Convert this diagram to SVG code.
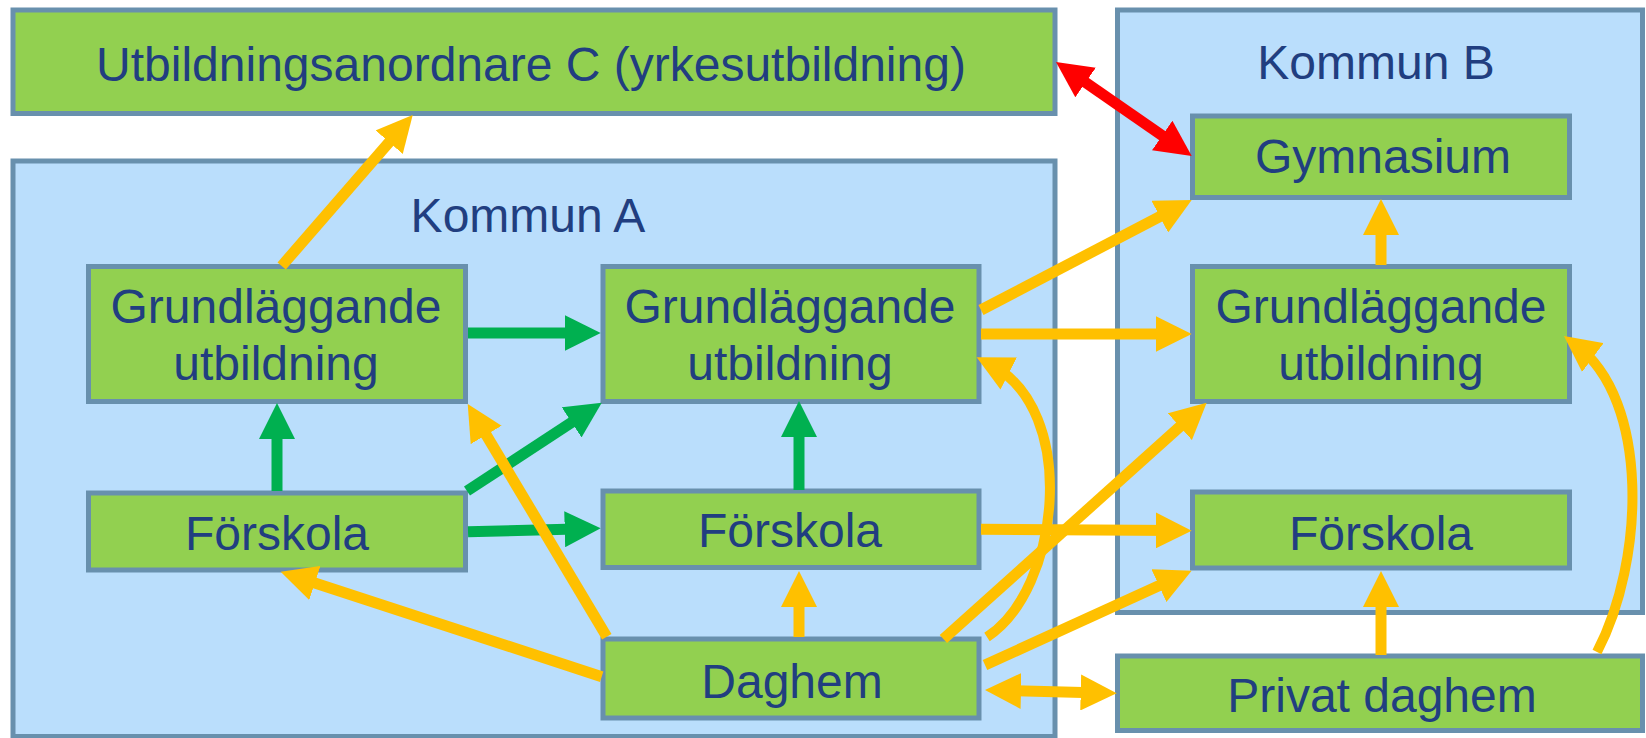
<svg xmlns="http://www.w3.org/2000/svg" width="1646" height="738" viewBox="0 0 1646 738">
<style>
.area{fill:#BADEFC;stroke:#6890AD;stroke-width:5}
.node{fill:#92D050;stroke:#6890AD;stroke-width:5}
.t{font-family:"Liberation Sans",Arial,sans-serif;font-size:48px;fill:#213E80;text-anchor:middle}
.g{stroke:#00B050;stroke-width:11;fill:none}
.y{stroke:#FFC000;stroke-width:11;fill:none}
.yc{stroke:#FFC000;stroke-width:10;fill:none}
.r{stroke:#FF0000;stroke-width:11;fill:none}
</style>
<defs>
<marker id="hg" viewBox="0 0 36 36" refX="21" refY="18" markerWidth="36" markerHeight="36" markerUnits="userSpaceOnUse" orient="auto-start-reverse"><path d="M0,0 L36,18 L0,36 z" fill="#00B050"/></marker>
<marker id="hy" viewBox="0 0 36 36" refX="21" refY="18" markerWidth="36" markerHeight="36" markerUnits="userSpaceOnUse" orient="auto-start-reverse"><path d="M0,0 L36,18 L0,36 z" fill="#FFC000"/></marker>
<marker id="hr" viewBox="0 0 36 36" refX="21" refY="18" markerWidth="36" markerHeight="36" markerUnits="userSpaceOnUse" orient="auto-start-reverse"><path d="M0,0 L36,18 L0,36 z" fill="#FF0000"/></marker>
</defs>
<rect width="1646" height="738" fill="#FFFFFF"/>
<g id="kommun-a"><rect class="area" x="13" y="161" width="1042" height="575.5"/><text class="t" x="528" y="232">Kommun A</text></g>
<g id="kommun-b"><rect class="area" x="1117.5" y="10" width="525" height="602.5"/><text class="t" x="1376" y="79">Kommun B</text></g>
<g id="utbildningsanordnare-c"><rect class="node" x="13" y="10" width="1042" height="103.5"/><text class="t" x="531" y="81">Utbildningsanordnare C (yrkesutbildning)</text></g>
<g id="gymnasium"><rect class="node" x="1192.5" y="116" width="377" height="81.5"/><text class="t" x="1383" y="172.7">Gymnasium</text></g>
<g id="grund-a1"><rect class="node" x="88.5" y="266.5" width="377" height="135"/><text class="t" x="276" y="322.7">Grundläggande</text><text class="t" x="276" y="380">utbildning</text></g>
<g id="grund-a2"><rect class="node" x="603" y="266.5" width="376" height="135"/><text class="t" x="790" y="322.7">Grundläggande</text><text class="t" x="790" y="380">utbildning</text></g>
<g id="grund-b"><rect class="node" x="1192.5" y="266.5" width="377" height="135"/><text class="t" x="1381" y="322.7">Grundläggande</text><text class="t" x="1381" y="380">utbildning</text></g>
<g id="forskola-a1"><rect class="node" x="88.5" y="493" width="377" height="77"/><text class="t" x="277" y="550">Förskola</text></g>
<g id="forskola-a2"><rect class="node" x="603" y="491" width="376" height="76.5"/><text class="t" x="790" y="547.3">Förskola</text></g>
<g id="forskola-b"><rect class="node" x="1192.5" y="492" width="377" height="76"/><text class="t" x="1381" y="550">Förskola</text></g>
<g id="daghem"><rect class="node" x="603" y="639" width="376" height="79"/><text class="t" x="792" y="698.3">Daghem</text></g>
<g id="privat-daghem"><rect class="node" x="1117.5" y="656" width="525" height="74.5"/><text class="t" x="1382" y="711.7">Privat daghem</text></g>
<g id="connectors">
<path class="y" d="M281.7,266 L402.9,126.3" marker-end="url(#hy)"/>
<path class="r" d="M1068.3,70.5 L1179.4,147.5" marker-start="url(#hr)" marker-end="url(#hr)"/>
<path class="y" d="M981,310 L1178.4,206.9" marker-end="url(#hy)"/>
<path class="y" d="M1381,265 L1381,214" marker-end="url(#hy)"/>
<path class="y" d="M981,334 L1176.7,334" marker-end="url(#hy)"/>
<path class="g" d="M468,333 L585.7,333" marker-end="url(#hg)"/>
<path class="g" d="M277,491 L277,418" marker-end="url(#hg)"/>
<path class="g" d="M467,491 L589.2,410.9" marker-end="url(#hg)"/>
<path class="g" d="M468,531.7 L585.7,528.7" marker-end="url(#hg)"/>
<path class="g" d="M799,490 L799,416" marker-end="url(#hg)"/>
<path class="y" d="M799,637 L799,586" marker-end="url(#hy)"/>
<path class="y" d="M601.7,676.7 L294.9,576.4" marker-end="url(#hy)"/>
<path class="y" d="M606.8,636.7 L475.4,416.9" marker-end="url(#hy)"/>
<path class="y" d="M943.4,639 L1195.5,412.7" marker-end="url(#hy)"/>
<path class="y" d="M981,529.3 L1176.7,530.6" marker-end="url(#hy)"/>
<path class="y" d="M985,665 L1178,576.9" marker-end="url(#hy)"/>
<path class="y" d="M1000,690.4 L1101.7,692.9" marker-start="url(#hy)" marker-end="url(#hy)"/>
<path class="y" d="M1381,655 L1381,586" marker-end="url(#hy)"/>
<path class="yc" d="M987,637 C1060,590 1080,410 990,364" marker-end="url(#hy)"/>
<path class="yc" d="M1597,652 C1645,560 1650,400 1576,345" marker-end="url(#hy)"/>
</g>
</svg>
